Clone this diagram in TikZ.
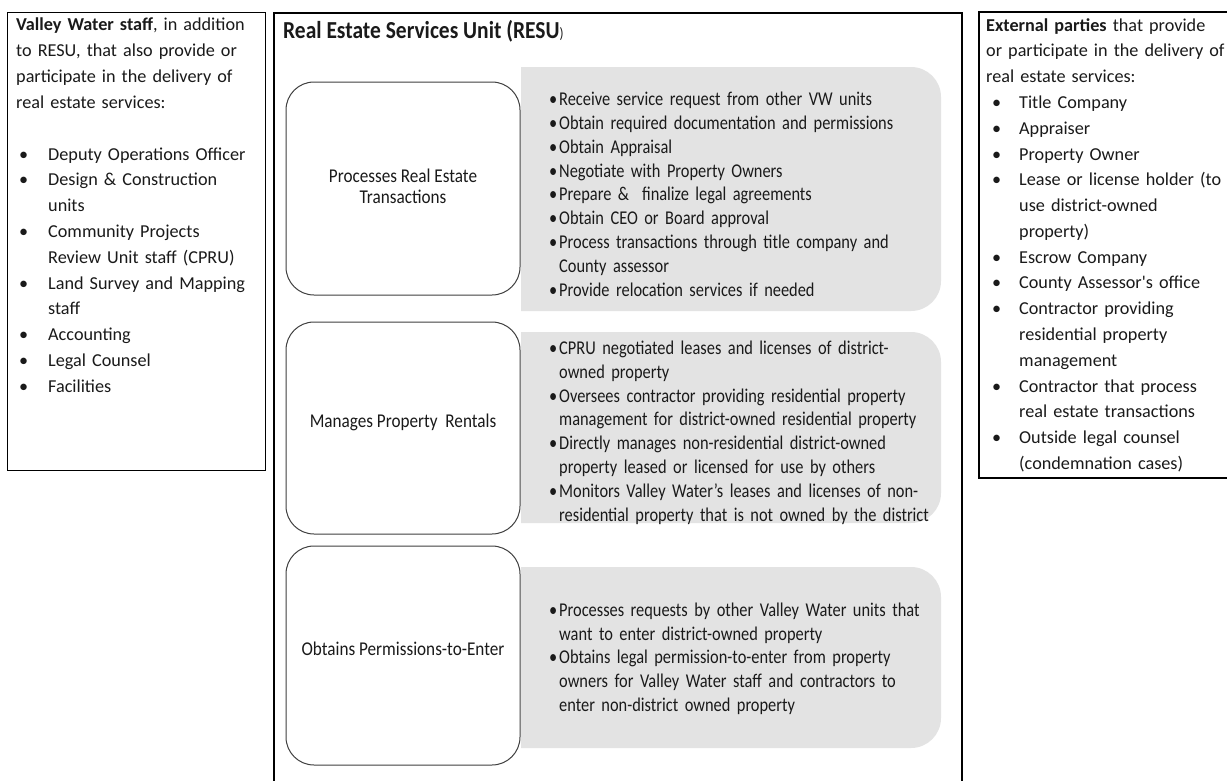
\documentclass[tikz,border=0pt]{standalone}
\usepackage{fontspec}
\setmainfont{Carlito}
\newfontfamily\narrowfont[FakeStretch=0.84]{Carlito}
\newfontfamily\titlefont[FakeStretch=0.88]{Carlito}
\newfontfamily\rawfont[Ligatures=TeXOff]{Carlito}
\definecolor{panelgray}{HTML}{E3E3E3}
\definecolor{edgegray}{HTML}{404040}
\definecolor{inktext}{HTML}{1A1A1A}
\newlength\bulind
\newlength\bulpad
\newcommand\bul[1]{\par\hangindent=\bulind\hangafter=1\noindent\makebox[\bulind][l]{\hspace{\bulpad}\textbullet}#1}
\newcommand\gbul[1]{\par\hangindent=10pt\hangafter=1\noindent\makebox[10pt][l]{\textbullet}#1}
\newcommand\graypanel[3]{% name, top, bottom
  \fill[panelgray] (521,#2) -- (911,#2) arc[start angle=-90,end angle=0,radius=30]
    -- (941,#3-30) arc[start angle=0,end angle=90,radius=30] -- (521,#3) -- cycle;
  \coordinate (#1) at (521,{(#2+#3)/2});}
\begin{document}
\begin{tikzpicture}[x=1pt,y=-1pt,
  frame/.style={draw=black,line width=1.1pt},
  sidetext/.style={inner sep=0pt,anchor=north west,align=left,text=inktext,
     font=\fontsize{18.2}{25.8}\selectfont},
  actbox/.style={draw=edgegray,line width=1pt,rounded corners=28pt,minimum width=234pt,
     align=center,text=inktext,font=\titlefont\fontsize{19.5}{21}\selectfont},
  acttext/.style={inner sep=0pt,align=center,text=inktext,font=\titlefont\fontsize{19.5}{21}\selectfont},
  paneltext/.style={inner sep=0pt,anchor=west,align=left,text width=405pt,text=inktext,
     font=\narrowfont\fontsize{19.5}{23.8}\selectfont}]
\useasboundingbox (0,0) rectangle (1227,780);
\fill[white] (0,0) rectangle (1227,780);

% left box
\node[frame,inner sep=0pt,anchor=north west,minimum width=258pt,minimum height=458pt] (leftbox) at (7,12) {};
\node[sidetext,text width=250pt] (lefttext) at (16,18) {%
\textbf{Valley Water staff}, in addition\newline to RESU, that also provide or\newline participate in the delivery of\newline real estate services:\par\vspace{26pt}%
\setlength\bulind{32pt}\setlength\bulpad{3pt}%
\bul{Deputy Operations Officer}%
\bul{Design \& Construction\newline units}%
\bul{Community Projects\newline Review Unit staff (CPRU)}%
\bul{Land Survey and Mapping\newline staff}%
\bul{Accounting}%
\bul{Legal Counsel}%
\bul{Facilities}\par};

% centre frame (open at the bottom)
\draw[frame] (274,781) -- (274,13) -- (962,13) -- (962,781);
\node[inner sep=0pt,anchor=west,text=inktext] (title) at (283,31)
  {\titlefont\bfseries\fontsize{24.4}{30}\selectfont Real Estate Services Unit (RESU{\mdseries\fontsize{15}{18}\selectfont)}};

% grey panels
\graypanel{p1}{67}{311}
\graypanel{p2}{332}{523}
\graypanel{p3}{567}{748}

% activity boxes
\node[actbox,minimum height=213pt] (act1) at (403,188.5) {};
\node[acttext] (lab1) at (403,186) {Processes Real Estate\\Transactions};
\node[actbox,minimum height=212pt] (act2) at (403,428) {};
\node[acttext] (lab2) at (403,422) {Manages Property\ \ Rentals};
\node[actbox,minimum height=219pt] (act3) at (403,655.5) {};
\node[acttext] (lab3) at (403,649) {Obtains Permissions-to-Enter};

% panel texts
\node[paneltext] (t1) at ([xshift=28pt]p1) {%
\gbul{Receive service request from other VW units}%
\gbul{Obtain required\ documentation\ and permissions}%
\gbul{Obtain Appraisal}%
\gbul{Negotiate with Property Owners}%
\gbul{Prepare \&\ \ finalize legal agreements}%
\gbul{Obtain CEO or Board approval}%
\gbul{Process transactions through title company and\newline County assessor}%
\gbul{Provide relocation services if needed}\par};
\node[paneltext] (t2) at ([xshift=28pt]p2) {%
\gbul{CPRU negotiated leases and licenses of district-\newline owned property}%
\gbul{Oversees contractor providing residential property\newline management for district-owned residential property}%
\gbul{Directly manages non-residential district-owned\newline property leased or licensed for use by others}%
\gbul{Monitors Valley Water’s leases and licenses of non-\newline residential property that is not owned by the district}\par};
\node[paneltext] (t3) at ([xshift=28pt,yshift=4pt]p3) {%
\gbul{Processes requests by other Valley Water units that\newline want to enter district-owned property}%
\gbul{Obtains legal permission-to-enter from property\newline owners for Valley Water staff and contractors to\newline enter non-district owned property}\par};

% right box (runs off the right edge)
\draw[frame] (1228,12) -- (979,12) -- (979,478) -- (1228,478);
\coordinate (rightbox) at (979,12);
\node[sidetext,text width=260pt] (righttext) at (986,18) {%
\textbf{External parties} that provide\newline or participate in the delivery of\newline real estate services:%
\setlength\bulind{33pt}\setlength\bulpad{6pt}%
\bul{Title Company}%
\bul{Appraiser}%
\bul{Property Owner}%
\bul{Lease or license holder (to\newline use district-owned\newline property)}%
\bul{Escrow Company}%
\bul{County Assessor{\rawfont'}s office}%
\bul{Contractor providing\newline residential property\newline management}%
\bul{Contractor that process\newline real estate transactions}%
\bul{Outside legal counsel\newline (condemnation cases)}\par};
\end{tikzpicture}
\end{document}
